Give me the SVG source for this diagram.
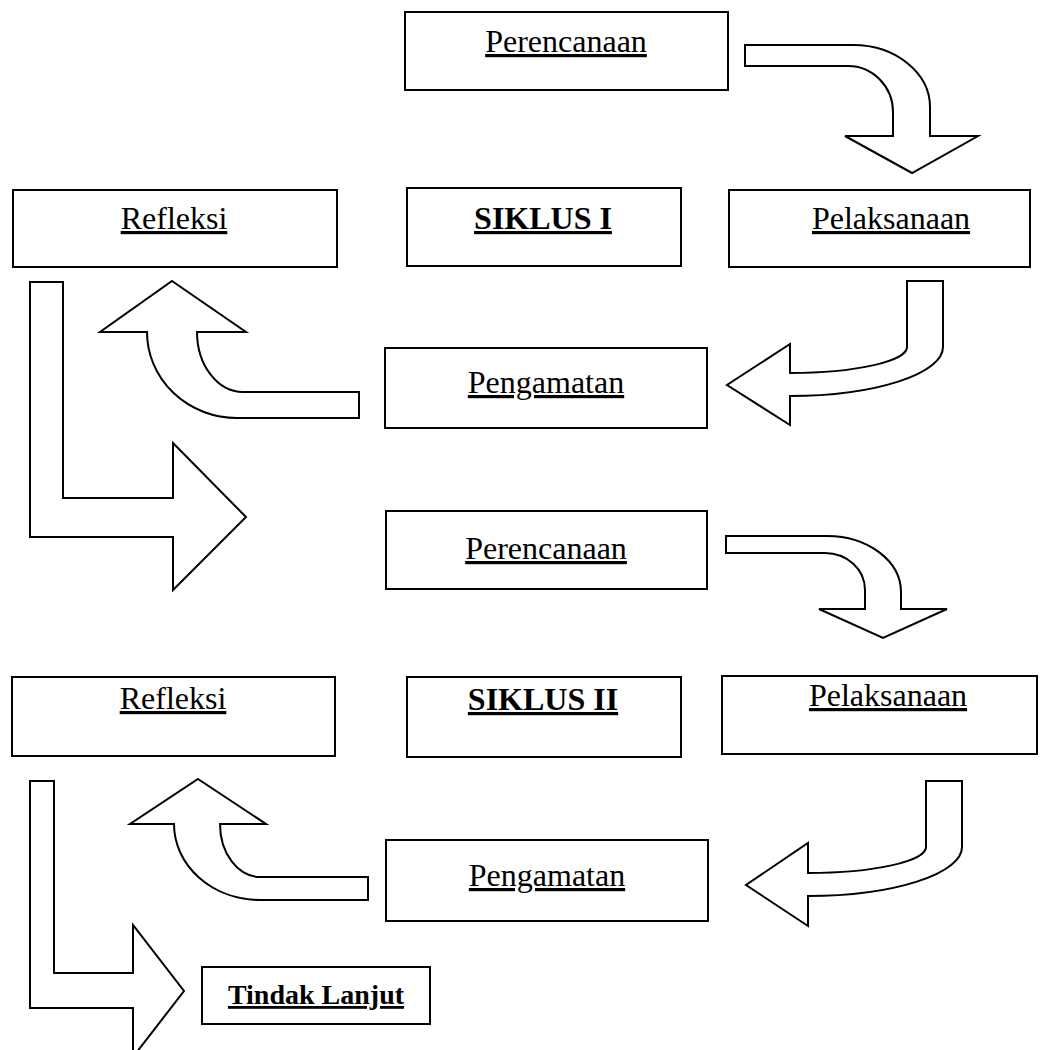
<svg xmlns="http://www.w3.org/2000/svg" width="1041" height="1050" viewBox="0 0 1041 1050">
<style>
.box{fill:#fff;stroke:#000;stroke-width:2}
.arr{fill:#fff;stroke:#000;stroke-width:2;stroke-linejoin:miter}
.t{font-family:"Liberation Serif","Times New Roman",serif;font-size:32px;text-anchor:middle;text-decoration:underline;fill:#000}
.b{font-weight:bold}
</style>
<rect width="1041" height="1050" fill="#fff"/>
<g id="connectors">
<path class="arr" d="M745,45 L853,45 A77,62 0 0 1 930,107 L930,136 L978,136 L912,173 L845,136 L893,136 L893,112 A45,46 0 0 0 848,66 L745,66 Z"/>
<path class="arr" d="M907,281 L943,281 L943,347 A153,49 0 0 1 790,396 L790,425 L727,385 L790,344 L790,373 A117,26 0 0 0 907,347 Z"/>
<path class="arr" d="M172,281 L246,332 L197,332 A46,60 0 0 0 243,392 L359,392 L359,418 L237,418 A90,86 0 0 1 147,332 L100,332 Z"/>
<path class="arr" d="M30,282 L63,282 L63,498 L173,498 L173,443 L246,517 L173,590 L173,537 L30,537 Z"/>
<path class="arr" d="M726,536 L827,536 A74,56 0 0 1 901,592 L901,609 L947,609 L883,638 L819,609 L865,609 L865,590 A40,37 0 0 0 825,553 L726,553 Z"/>
<path class="arr" d="M926,781 L962,781 L962,847 A154,49 0 0 1 808,896 L808,926 L746,885 L808,843 L808,873 A118,26 0 0 0 926,847 Z"/>
<path class="arr" d="M198,779 L266,824 L220,824 A40,53 0 0 0 260,877 L368,877 L368,900 L260,900 A86,76 0 0 1 174,824 L130,824 Z"/>
<path class="arr" d="M30,781 L54,781 L54,973 L133,973 L133,925 L184,991 L133,1057 L133,1008 L30,1008 Z"/>
</g>
<g id="perencanaan1"><rect class="box" x="405" y="12" width="323" height="78"/><text class="t" x="566" y="52">Perencanaan</text></g>
<g id="refleksi1"><rect class="box" x="13" y="190" width="324" height="77"/><text class="t" x="174" y="229">Refleksi</text></g>
<g id="siklus1"><rect class="box" x="407" y="188" width="274" height="78"/><text class="t b" x="543" y="229">SIKLUS I</text></g>
<g id="pelaksanaan1"><rect class="box" x="729" y="190" width="301" height="77"/><text class="t" x="891" y="229">Pelaksanaan</text></g>
<g id="pengamatan1"><rect class="box" x="385" y="348" width="322" height="80"/><text class="t" x="546" y="393">Pengamatan</text></g>
<g id="perencanaan2"><rect class="box" x="386" y="511" width="321" height="78"/><text class="t" x="546" y="559">Perencanaan</text></g>
<g id="refleksi2"><rect class="box" x="12" y="677" width="323" height="79"/><text class="t" x="173" y="709">Refleksi</text></g>
<g id="siklus2"><rect class="box" x="407" y="677" width="274" height="80"/><text class="t b" x="543" y="710">SIKLUS II</text></g>
<g id="pelaksanaan2"><rect class="box" x="722" y="676" width="315" height="78"/><text class="t" x="888" y="706">Pelaksanaan</text></g>
<g id="pengamatan2"><rect class="box" x="386" y="840" width="322" height="81"/><text class="t" x="547" y="886">Pengamatan</text></g>
<g id="tindaklanjut"><rect class="box" x="202" y="967" width="228" height="57"/><text class="t b" x="316" y="1004" style="font-size:28px">Tindak Lanjut</text></g>
</svg>
